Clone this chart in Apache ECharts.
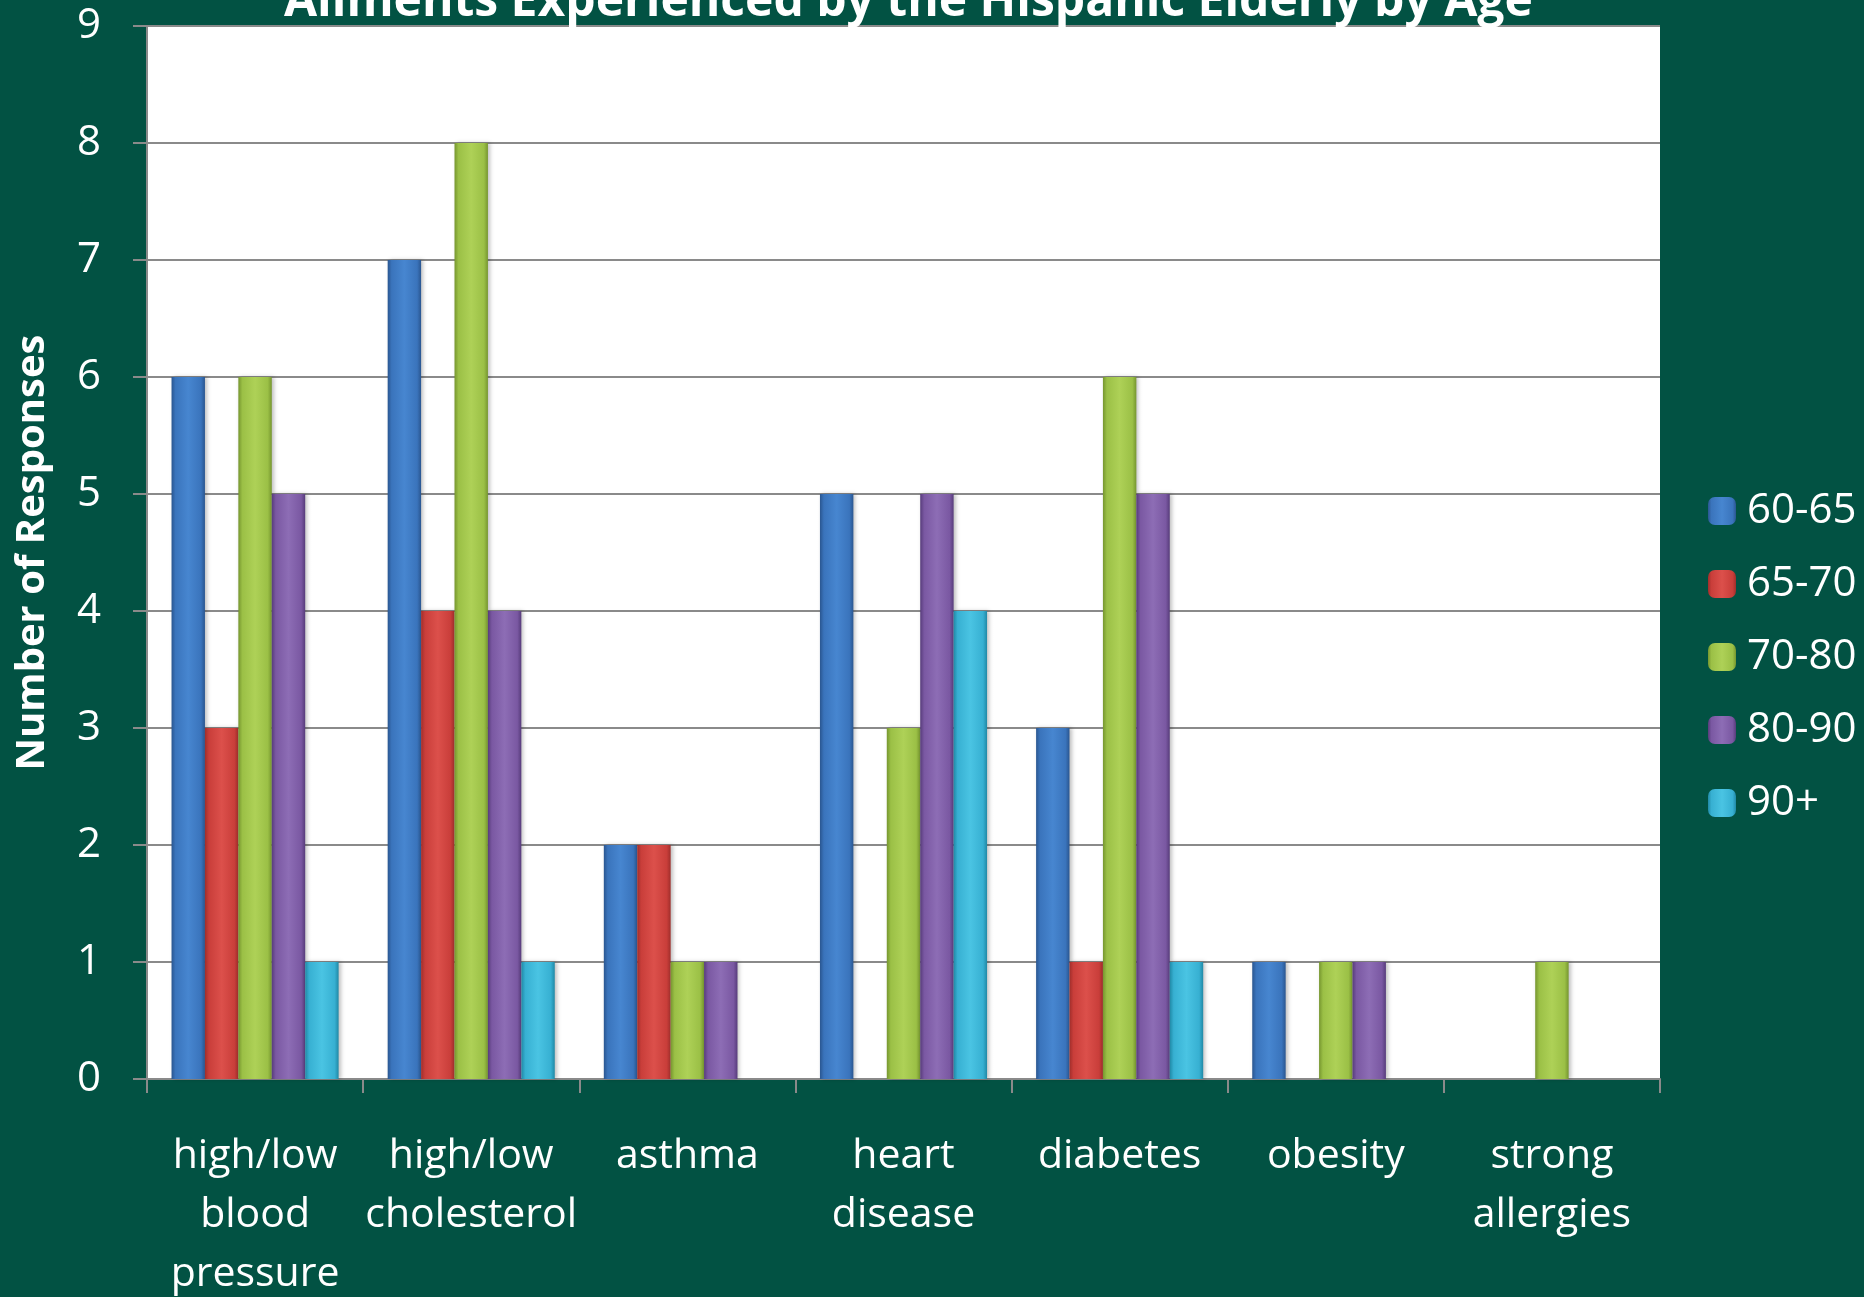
<!DOCTYPE html>
<html>
<head>
<meta charset="utf-8">
<script src="https://cdn.jsdelivr.net/npm/echarts@6/dist/echarts.min.js"></script>
<style>
html,body{margin:0;padding:0;background:#025243;}
#chart{width:1864px;height:1297px;}
</style>
</head>
<body>
<div id="chart"></div>
<script>
const categories = ["high/low\nblood\npressure", "high/low\ncholesterol", "asthma", "heart\ndisease", "diabetes", "obesity", "strong\nallergies"];
const seriesNames = ["60-65", "65-70", "70-80", "80-90", "90+"];
const s60_65 = [6, 7, 2, 5, 3, 1, 0];
const s65_70 = [3, 4, 2, 0, 1, 0, 0];
const s70_80 = [6, 8, 1, 3, 6, 1, 1];
const s80_90 = [5, 4, 1, 5, 5, 1, 0];
const s90p   = [1, 1, 0, 4, 1, 0, 0];
const yTicks = [0, 1, 2, 3, 4, 5, 6, 7, 8, 9];

const values = [s60_65, s65_70, s70_80, s80_90, s90p];
const palette = [
  ['#2a5690', '#3a74bc', '#4786d0'],
  ['#a02e2b', '#c93e3a', '#dc504b'],
  ['#76962f', '#9bc046', '#aed157'],
  ['#573c7b', '#7a58a2', '#8d6db5'],
  ['#2089a6', '#37b0d2', '#4ac4e3']
];
function grad(p){
  return new echarts.graphic.LinearGradient(0,0,1,0,[
    {offset:0,color:p[0]},{offset:0.12,color:p[1]},{offset:0.5,color:p[2]},{offset:0.88,color:p[1]},{offset:1,color:p[0]}
  ]);
}
const FONT = '"Open Sans", sans-serif';
const chart = echarts.init(document.getElementById('chart'));
chart.setOption({
  backgroundColor: '#025243',
  animation: false,
  title: {
    text: 'Ailments Experienced by the Hispanic Elderly by Age',
    left: 279, top: -27,
    textStyle: {color:'#ffffff', fontSize:48, fontWeight:'bold', fontFamily:FONT}
  },
  legend: {
    orient: 'vertical', left: 1703, top: 485,
    itemWidth: 28, itemHeight: 28, itemGap: 31,
    data: seriesNames,
    textStyle: {color:'#ffffff', fontSize:42, fontFamily:FONT, padding:[0,0,0,6]}
  },
  grid: {left:147, right:204, top:26, bottom:218, show:true, backgroundColor:'#ffffff', borderWidth:0,
         containLabel:false, outerBoundsMode:'none'},
  xAxis: {
    type:'category', data:categories,
    axisLine:{show:true, lineStyle:{color:'#8a8a8a', width:2}},
    axisTick:{show:true, length:14, lineStyle:{color:'#8a8a8a', width:2}},
    axisLabel:{color:'#ffffff', fontSize:41, fontFamily:FONT, interval:0, margin:48, lineHeight:59}
  },
  yAxis: {
    type:'value', min:yTicks[0], max:yTicks[yTicks.length-1], interval:1,
    name:'Number of Responses', nameLocation:'middle', nameGap:94,
    nameTextStyle:{color:'#ffffff', fontSize:40, fontWeight:'bold', fontFamily:FONT},
    axisLine:{show:true, lineStyle:{color:'#8a8a8a', width:2}},
    axisTick:{show:true, length:14, lineStyle:{color:'#8a8a8a', width:2}},
    axisLabel:{color:'#ffffff', fontSize:42, fontFamily:FONT, margin:46},
    splitLine:{show:true, lineStyle:{color:'#8a8a8a', width:2}}
  },
  series: seriesNames.map((n,i)=>({
    name:n, type:'bar', data:values[i],
    barGap:'0%', barCategoryGap:'22.7%',
    itemStyle:{color:grad(palette[i]), shadowBlur:4, shadowOffsetX:2, shadowColor:'rgba(0,0,0,0.25)'}
  }))
});
</script>
</body>
</html>
